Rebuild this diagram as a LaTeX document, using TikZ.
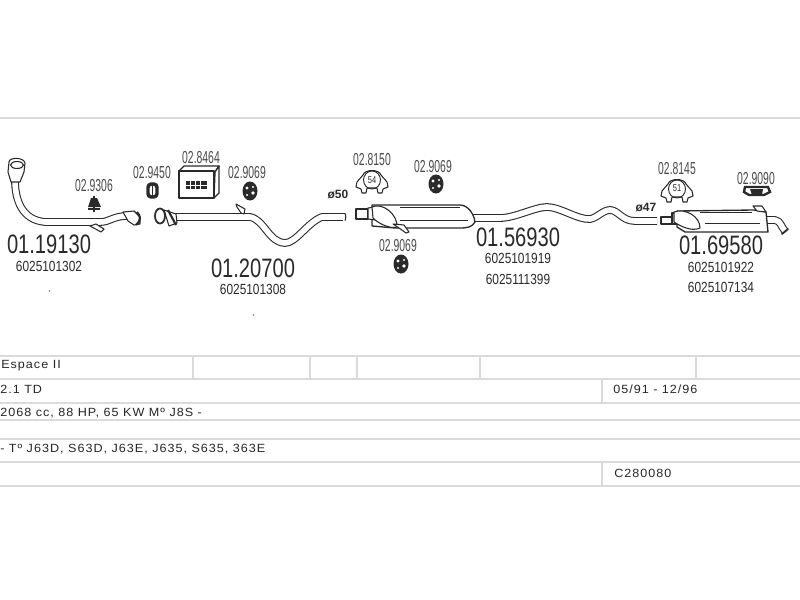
\documentclass[tikz,border=0pt]{standalone}
\usepackage{fontspec}
\setmainfont{Liberation Sans}
\newfontfamily\spaced[LetterSpace=8]{Liberation Sans}
\definecolor{ink}{HTML}{2A2A2A}
\definecolor{rule}{HTML}{DADADA}
\tikzset{
  x=0.75pt,y=-0.75pt,
  bignum/.style={font=\fontsize{20}{20}\selectfont,xscale=.755,text=ink,inner sep=0pt},
  refnum/.style={font=\fontsize{11}{11}\selectfont,xscale=.81,text=ink,inner sep=0pt},
  partnum/.style={font=\fontsize{13}{13}\selectfont,xscale=.6,text=ink!85,inner sep=0pt},
  dia/.style={font=\bfseries\fontsize{9}{9}\selectfont,text=ink,inner sep=0pt},
  cell/.style={font=\spaced\fontsize{8.9}{9}\selectfont,xscale=1.06,anchor=west,inner sep=0pt,text=black!85},
  pipe/.style={draw=ink,line width=.8pt,double=white,double distance=4.2pt,line cap=butt,line join=round},
  thin part/.style={draw=ink,line width=.8pt,fill=white,line join=round},
  tablerule/.style={draw=rule,line width=1.5pt},
  clampshape/.pic={
    \draw[thin part] (-10,13) -- (-11,9) -- (-16,7) -- (-15,2) -- (-9,-5) .. controls (-7,-11) and (7,-11) .. (9,-5) -- (15,2) -- (16,7) -- (11,9) -- (10,13) -- (6,13) -- (5,8) -- (-5,8) -- (-6,13) -- cycle;
    \draw[draw=ink,line width=.7pt] (0,0) ellipse (8.5 and 9);
  },
  roundmount/.pic={
    \fill[ink] (0,0) ellipse (7.5 and 9.5);
    \fill[white] (-3,-3) circle (1.6) (3,2) circle (1.8) (-3,4) circle (1.2) (3,-4) circle (1.2);
  }
}
\begin{document}
\begin{tikzpicture}
\useasboundingbox (0,0) rectangle (800,600);
\fill[white] (0,0) rectangle (800,600);
% rules
\draw[tablerule] (0,118) -- (800,118);
\foreach \yy in {356,379,403,420,439,462,486} \draw[tablerule] (0,\yy) -- (800,\yy);
\foreach \xx in {193,310,357,480,696} \draw[tablerule] (\xx,356) -- (\xx,379);
\draw[tablerule] (602,379) -- (602,403);
\draw[tablerule] (602,462) -- (602,486);
% pipe 1
\draw[pipe] (15,180) .. controls (15,200) and (22,220) .. (45,222) -- (100,222) .. controls (110,222) and (113,216) .. (127,216);
\draw[thin part] (9,162) .. controls (9,157) and (24,157) .. (25,163) -- (24,172) -- (20,182) -- (11,182) -- (8,172) -- cycle;
\draw[thin part] (17,165) ellipse (6.5 and 3.5);
\draw[thin part] (90,226) -- (96,224) -- (104,229) -- (101,232) -- cycle;
\draw[thin part] (123,212) -- (134,211) -- (140,217) -- (140,224) -- (134,225) -- (128,221) -- cycle;
\draw[ink,line width=1.6pt] (137,212) .. controls (141,216) and (141,221) .. (136,225);
% hanger 02.9306
\draw[ink,line width=1pt] (94,196) -- (94,212) (88,209) -- (100,209);
\fill[ink] (91,198) -- (97,198) -- (101,207) -- (88,207) -- cycle;
% rubber 02.9450
\draw[ink,line width=2.6pt,fill=white,rounded corners=2.5pt] (148,184) rectangle (157,197);
\fill[ink] (151.8,184) rectangle (153.2,197);
% box 02.8464
\draw[thin part,line width=1pt] (179,171) -- (184,166) -- (219,166) -- (215,172) -- cycle;
\draw[thin part,line width=1pt] (215,172) -- (219,166) -- (219,193) -- (214,198) -- cycle;
\draw[thin part,line width=1pt] (179,171) rectangle (214,198);
\fill[ink] (186,181) rectangle (207,189);
\draw[white,line width=.5pt] (190,181) -- (190,189) (195,181) -- (195,189) (200,181) -- (200,189) (186,185) -- (207,185);
\pic at (250,191) {roundmount};
% pipe 2
\draw[pipe] (172,217) -- (250,217) .. controls (265,220) and (268,242) .. (285,243) .. controls (296,243) and (308,222) .. (322,217) -- (345,217);
\draw[thin part] (164,210) -- (176,214) -- (177,223) -- (169,226) -- cycle;
\draw[thin part,line width=1.3pt] (160,216) ellipse (5 and 7.5);
\draw[ink,line width=1.6pt] (168,210) -- (176,225);
\draw[thin part] (236,204) -- (245,209) -- (244,214) -- (241,213) -- (237,207) -- cycle;
\fill[white] (342.8,213.5) rectangle (345.5,220.5);
\draw[ink,line width=.8pt] (345,213.4) .. controls (346,215) and (346,219) .. (345,220.6);
% pipe 3 with muffler
\draw[pipe] (472,218) -- (500,218) .. controls (515,218) and (535,207) .. (547,207) .. controls (560,207) and (578,220) .. (590,219) .. controls (597,218) and (603,210) .. (610,210) .. controls (618,210) and (622,221) .. (635,221) -- (657,221);
\draw[thin part,line width=1pt] (372,205) -- (460,205) .. controls (468,205) and (474,214) .. (475,222) .. controls (472,227) and (468,228) .. (460,228) -- (395,228) -- (372,226) -- cycle;
\draw[draw=ink,line width=.7pt] (400,207) -- (460,207) (400,220) -- (468,220);
\draw[thin part] (356,209) rectangle (368,219);
\draw[thin part] (368,208) -- (376,207) -- (376,220) -- (368,219) -- cycle;
\draw[thin part] (372,207) .. controls (383,202) and (398,215) .. (397,227) .. controls (390,229) and (379,224) .. (373,218) -- cycle;
\draw[thin part] (393,224) -- (404,225) -- (409,232) -- (406,233) -- (399,228) -- cycle;
\pic at (372,180) {clampshape};
\pic at (436,184) {roundmount};
\pic at (401,264) {roundmount};
% muffler 3
\draw[pipe] (766,220) -- (775,220) .. controls (781,221) and (781,227) .. (785,231);
\draw[ink,line width=1.4pt,line cap=round] (782,234) -- (788,229);
\draw[thin part,line width=1pt] (677,211) -- (754,210) -- (766,212) -- (768,232) -- (685,232) -- (677,227) -- cycle;
\draw[draw=ink,line width=.7pt] (705,223) -- (760,223) (700,212.5) -- (752,212.5);
\draw[thin part] (661,217) rectangle (676,224);
\draw[thin part] (672,213) rectangle (684,224);
\draw[thin part] (674,212) .. controls (685,208) and (700,216) .. (700,228) .. controls (692,232) and (680,226) .. (674,222) -- cycle;
\draw[thin part] (753,206) -- (762,206) -- (766,212) -- (757,211) -- cycle;
\pic at (677,189) {clampshape};
% hanger 02.9090
\draw[ink,line width=1.8pt,fill=white] (745,187) -- (768,187) -- (770,192) -- (764,195) -- (749,195) -- (744,192) -- cycle;
\fill[ink] (750,189) -- (763,189) -- (762,195) -- (752,195) -- cycle;
% labels
\node[partnum] (p1) at (94,186) {02.9306};
\node[partnum] (p2) at (152,173) {02.9450};
\node[partnum] (p3) at (201,158) {02.8464};
\node[partnum] (p4) at (247,173) {02.9069};
\node[partnum] (p5) at (372,160) {02.8150};
\node[partnum] (p6) at (433,167) {02.9069};
\node[partnum] (p7) at (398,246) {02.9069};
\node[partnum] (p8) at (677,169) {02.8145};
\node[partnum] (p9) at (756,179) {02.9090};
\node[font=\fontsize{7.5}{7.5}\selectfont,xscale=.75,inner sep=0pt,text=ink] (c54) at (372,180) {54};
\node[font=\fontsize{7.5}{7.5}\selectfont,xscale=.75,inner sep=0pt,text=ink] (c51) at (677,188) {51};
\node[dia] (d50) at (338,194) {ø50};
\node[dia] (d47) at (646,208) {ø47};
\node[bignum] (n1) at (49,244.5) {01.19130};
\node[refnum] (r1) at (49,266) {6025101302};
\node[bignum] (n2) at (253,268.5) {01.20700};
\node[refnum] (r2) at (253,289.5) {6025101308};
\node[bignum] (n3) at (518,237.5) {01.56930};
\node[refnum] (r3) at (518,258.5) {6025101919};
\node[refnum] (r4) at (518,279) {6025111399};
\node[bignum] (n4) at (721,245.5) {01.69580};
\node[refnum] (r5) at (721,267) {6025101922};
\node[refnum] (r6) at (721,287) {6025107134};
\fill[ink!60] (49.5,291) circle (.8) (253.5,315) circle (.8);
% table text
\node[cell] (t1) at (1,366) {Espace II};
\node[cell] (t2) at (0,389) {2.1 TD};
\node[cell] (t3) at (0,413) {2068 cc, 88 HP, 65 KW Mº J8S -};
\node[cell] (t4) at (0,449) {- Tº J63D, S63D, J63E, J635, S635, 363E};
\node[cell] (t5) at (613,389) {05/91 - 12/96};
\node[cell] (t6) at (614,473) {C280080};
\end{tikzpicture}
\end{document}
